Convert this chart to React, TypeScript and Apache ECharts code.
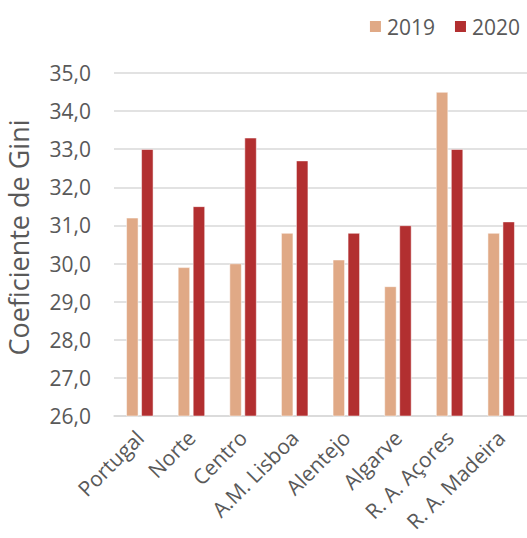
import React, { useEffect, useRef } from "react";
import * as echarts from "echarts";

const categories = ["Portugal", "Norte", "Centro", "A.M. Lisboa", "Alentejo", "Algarve", "R. A. Açores", "R. A. Madeira"];
const values2019 = [31.2, 29.9, 30.0, 30.8, 30.1, 29.4, 34.5, 30.8];
const values2020 = [33.0, 31.5, 33.3, 32.7, 30.8, 31.0, 33.0, 31.1];
const seriesNames = ["2019", "2020"];
const yAxisTitle = "Coeficiente de Gini";

const TEXT = "#595959";
const FONT = "'Open Sans', 'Liberation Sans', sans-serif";

export default function App() {
  const ref = useRef<HTMLDivElement>(null);
  useEffect(() => {
    if (!ref.current) return;
    const chart = echarts.init(ref.current, null, { renderer: "svg" });
    chart.setOption({
      animation: false,
      backgroundColor: "#ffffff",
      textStyle: { fontFamily: FONT, color: TEXT },
      legend: {
        right: 2,
        top: 11,
        icon: "rect",
        itemWidth: 13,
        itemHeight: 13,
        itemGap: 18,
        textStyle: { fontSize: 21, color: TEXT, fontFamily: FONT },
        data: seriesNames,
      },
      grid: { left: 114, right: 0, top: 73, bottom: 122, containLabel: false, outerBoundsMode: "none" },
      xAxis: {
        type: "category",
        data: categories,
        axisLine: { show: true, lineStyle: { color: "#d9d9d9", width: 1.5 } },
        axisTick: { show: false },
        axisLabel: { rotate: 45, fontSize: 21, color: TEXT, margin: 18, interval: 0, fontFamily: FONT },
      },
      yAxis: {
        type: "value",
        min: 26,
        max: 35,
        interval: 1,
        name: yAxisTitle,
        nameLocation: "middle",
        nameGap: 82,
        nameTextStyle: { fontSize: 27, color: TEXT, fontFamily: FONT, padding: [0, 0, 0, 14] },
        axisLine: { show: false },
        axisTick: { show: false },
        splitLine: { lineStyle: { color: "#d9d9d9", width: 1.5 } },
        axisLabel: {
          fontSize: 21,
          color: TEXT,
          margin: 23,
          fontFamily: FONT,
          formatter: (v: number) => v.toFixed(1).replace(".", ","),
        },
      },
      series: [
        {
          name: seriesNames[0],
          type: "bar",
          data: values2019,
          barWidth: 12,
          barGap: "25%",
          itemStyle: { color: "#E0A986", borderColor: "#ffffff", borderWidth: 0.5 },
        },
        {
          name: seriesNames[1],
          type: "bar",
          data: values2020,
          barWidth: 12,
          barGap: "25%",
          itemStyle: { color: "#B22F30", borderColor: "#ffffff", borderWidth: 0.5 },
        },
      ],
    });
    return () => chart.dispose();
  }, []);
  return (
    <div
      ref={ref}
      style={{ position: "fixed", left: 0, top: 0, width: 527, height: 538 }}
    />
  );
}
